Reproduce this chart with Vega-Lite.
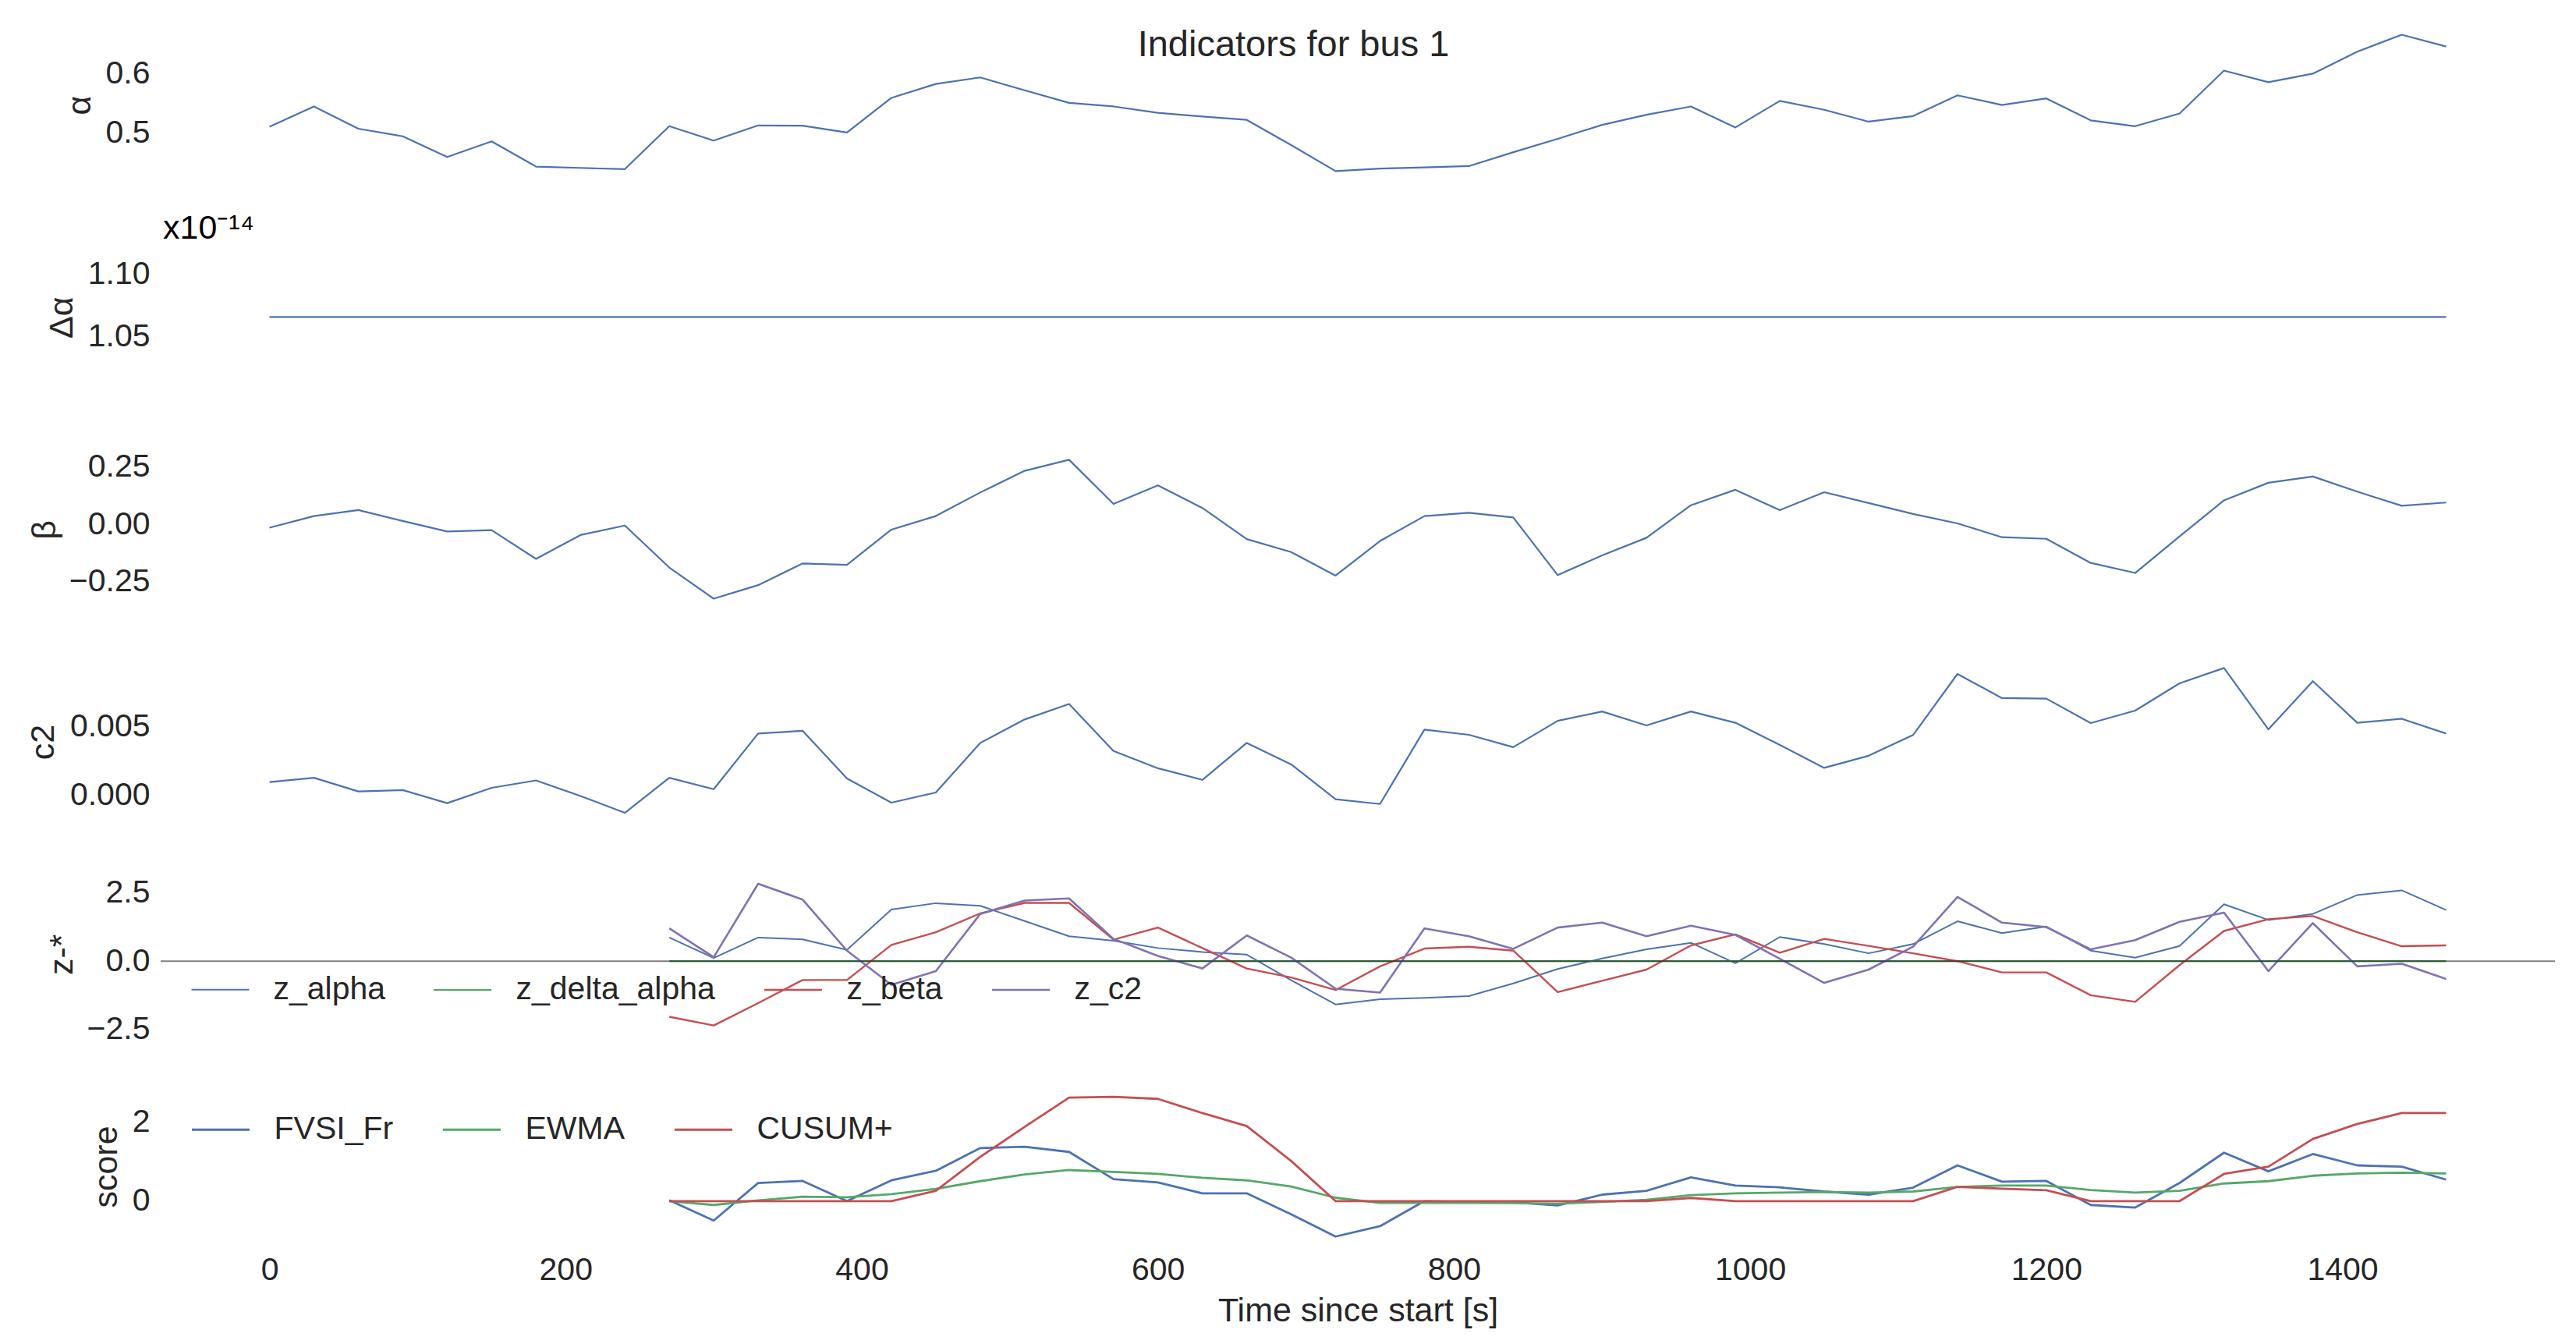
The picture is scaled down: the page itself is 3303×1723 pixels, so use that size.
{
  "$schema": "https://vega.github.io/schema/vega-lite/v6.json",
  "background": "white",
  "padding": {"left": 34, "top": 33.5, "right": 10, "bottom": 10},
  "bounds": "flush",
  "spacing": 74.2,
  "datasets": {
    "ind": [
      {"t": 0, "alpha": 0.5107, "dalpha": 1.0658e-14, "beta": -0.0153, "c2": 0.00095},
      {"t": 30, "alpha": 0.5449, "dalpha": 1.0658e-14, "beta": 0.0353, "c2": 0.00126},
      {"t": 60, "alpha": 0.5073, "dalpha": 1.0658e-14, "beta": 0.0612, "c2": 0.00027},
      {"t": 90, "alpha": 0.4944, "dalpha": 1.0658e-14, "beta": 0.0141, "c2": 0.00037},
      {"t": 120, "alpha": 0.4594, "dalpha": 1.0658e-14, "beta": -0.0318, "c2": -0.00058},
      {"t": 150, "alpha": 0.4859, "dalpha": 1.0658e-14, "beta": -0.0259, "c2": 0.00053},
      {"t": 180, "alpha": 0.4432, "dalpha": 1.0658e-14, "beta": -0.1506, "c2": 0.00107},
      {"t": 210, "alpha": 0.441, "dalpha": 1.0658e-14, "beta": -0.0471, "c2": -0.00006},
      {"t": 240, "alpha": 0.4389, "dalpha": 1.0658e-14, "beta": -0.0059, "c2": -0.00128},
      {"t": 270, "alpha": 0.5115, "dalpha": 1.0658e-14, "beta": -0.1882, "c2": 0.00126},
      {"t": 300, "alpha": 0.4872, "dalpha": 1.0658e-14, "beta": -0.3235, "c2": 0.00043},
      {"t": 330, "alpha": 0.5128, "dalpha": 1.0658e-14, "beta": -0.2647, "c2": 0.00447},
      {"t": 360, "alpha": 0.5124, "dalpha": 1.0658e-14, "beta": -0.1706, "c2": 0.00467},
      {"t": 390, "alpha": 0.5009, "dalpha": 1.0658e-14, "beta": -0.1765, "c2": 0.00121},
      {"t": 420, "alpha": 0.5594, "dalpha": 1.0658e-14, "beta": -0.0235, "c2": -0.00054},
      {"t": 450, "alpha": 0.5829, "dalpha": 1.0658e-14, "beta": 0.0353, "c2": 0.00019},
      {"t": 480, "alpha": 0.594, "dalpha": 1.0658e-14, "beta": 0.1376, "c2": 0.00379},
      {"t": 510, "alpha": 0.5722, "dalpha": 1.0658e-14, "beta": 0.2318, "c2": 0.00549},
      {"t": 540, "alpha": 0.5509, "dalpha": 1.0658e-14, "beta": 0.28, "c2": 0.00661},
      {"t": 570, "alpha": 0.5449, "dalpha": 1.0658e-14, "beta": 0.0882, "c2": 0.00321},
      {"t": 600, "alpha": 0.5342, "dalpha": 1.0658e-14, "beta": 0.1682, "c2": 0.00195},
      {"t": 630, "alpha": 0.5278, "dalpha": 1.0658e-14, "beta": 0.0706, "c2": 0.00111},
      {"t": 660, "alpha": 0.5222, "dalpha": 1.0658e-14, "beta": -0.0647, "c2": 0.00379},
      {"t": 690, "alpha": 0.4795, "dalpha": 1.0658e-14, "beta": -0.121, "c2": 0.00223},
      {"t": 720, "alpha": 0.4355, "dalpha": 1.0658e-14, "beta": -0.2235, "c2": -0.00029},
      {"t": 750, "alpha": 0.4397, "dalpha": 1.0658e-14, "beta": -0.0729, "c2": -0.00064},
      {"t": 780, "alpha": 0.4419, "dalpha": 1.0658e-14, "beta": 0.0353, "c2": 0.00475},
      {"t": 810, "alpha": 0.444, "dalpha": 1.0658e-14, "beta": 0.0494, "c2": 0.00438},
      {"t": 840, "alpha": 0.4675, "dalpha": 1.0658e-14, "beta": 0.0294, "c2": 0.00348},
      {"t": 870, "alpha": 0.4902, "dalpha": 1.0658e-14, "beta": -0.2212, "c2": 0.00539},
      {"t": 900, "alpha": 0.5137, "dalpha": 1.0658e-14, "beta": -0.1353, "c2": 0.00607},
      {"t": 930, "alpha": 0.5308, "dalpha": 1.0658e-14, "beta": -0.0588, "c2": 0.00506},
      {"t": 960, "alpha": 0.5449, "dalpha": 1.0658e-14, "beta": 0.0824, "c2": 0.00607},
      {"t": 990, "alpha": 0.5094, "dalpha": 1.0658e-14, "beta": 0.1494, "c2": 0.00525},
      {"t": 1020, "alpha": 0.5543, "dalpha": 1.0658e-14, "beta": 0.0612, "c2": 0.00364},
      {"t": 1050, "alpha": 0.5393, "dalpha": 1.0658e-14, "beta": 0.1388, "c2": 0.00198},
      {"t": 1080, "alpha": 0.5192, "dalpha": 1.0658e-14, "beta": 0.0918, "c2": 0.00286},
      {"t": 1110, "alpha": 0.5286, "dalpha": 1.0658e-14, "beta": 0.0447, "c2": 0.00436},
      {"t": 1140, "alpha": 0.5637, "dalpha": 1.0658e-14, "beta": 0.0035, "c2": 0.00879},
      {"t": 1170, "alpha": 0.5474, "dalpha": 1.0658e-14, "beta": -0.0565, "c2": 0.00704},
      {"t": 1200, "alpha": 0.5585, "dalpha": 1.0658e-14, "beta": -0.0635, "c2": 0.007},
      {"t": 1230, "alpha": 0.5214, "dalpha": 1.0658e-14, "beta": -0.1682, "c2": 0.00523},
      {"t": 1260, "alpha": 0.5115, "dalpha": 1.0658e-14, "beta": -0.2118, "c2": 0.00613},
      {"t": 1290, "alpha": 0.5329, "dalpha": 1.0658e-14, "beta": -0.0529, "c2": 0.00811},
      {"t": 1320, "alpha": 0.6056, "dalpha": 1.0658e-14, "beta": 0.1035, "c2": 0.00922},
      {"t": 1350, "alpha": 0.5859, "dalpha": 1.0658e-14, "beta": 0.18, "c2": 0.00477},
      {"t": 1380, "alpha": 0.6004, "dalpha": 1.0658e-14, "beta": 0.2071, "c2": 0.00827},
      {"t": 1410, "alpha": 0.6376, "dalpha": 1.0658e-14, "beta": 0.1412, "c2": 0.00525},
      {"t": 1440, "alpha": 0.6662, "dalpha": 1.0658e-14, "beta": 0.08, "c2": 0.00554},
      {"t": 1470, "alpha": 0.6462, "dalpha": 1.0658e-14, "beta": 0.0941, "c2": 0.00447}
    ],
    "z": [
      {"t": 270, "z_alpha": 0.865, "z_delta_alpha": 0, "z_beta": -2.038, "z_c2": 1.202},
      {"t": 300, "z_alpha": 0.115, "z_delta_alpha": 0, "z_beta": -2.356, "z_c2": 0.144},
      {"t": 330, "z_alpha": 0.865, "z_delta_alpha": 0, "z_beta": -1.538, "z_c2": 2.837},
      {"t": 360, "z_alpha": 0.798, "z_delta_alpha": 0, "z_beta": -0.692, "z_c2": 2.26},
      {"t": 390, "z_alpha": 0.413, "z_delta_alpha": 0, "z_beta": -0.692, "z_c2": 0.385},
      {"t": 420, "z_alpha": 1.894, "z_delta_alpha": 0, "z_beta": 0.596, "z_c2": -0.865},
      {"t": 450, "z_alpha": 2.125, "z_delta_alpha": 0, "z_beta": 1.058, "z_c2": -0.365},
      {"t": 480, "z_alpha": 2.029, "z_delta_alpha": 0, "z_beta": 1.75, "z_c2": 1.731},
      {"t": 510, "z_alpha": 1.471, "z_delta_alpha": 0, "z_beta": 2.135, "z_c2": 2.221},
      {"t": 540, "z_alpha": 0.913, "z_delta_alpha": 0, "z_beta": 2.135, "z_c2": 2.298},
      {"t": 570, "z_alpha": 0.75, "z_delta_alpha": 0, "z_beta": 0.788, "z_c2": 0.817},
      {"t": 600, "z_alpha": 0.481, "z_delta_alpha": 0, "z_beta": 1.231, "z_c2": 0.192},
      {"t": 630, "z_alpha": 0.337, "z_delta_alpha": 0, "z_beta": 0.481, "z_c2": -0.269},
      {"t": 660, "z_alpha": 0.24, "z_delta_alpha": 0, "z_beta": -0.269, "z_c2": 0.942},
      {"t": 690, "z_alpha": -0.7, "z_delta_alpha": 0, "z_beta": -0.6, "z_c2": 0.13},
      {"t": 720, "z_alpha": -1.587, "z_delta_alpha": 0, "z_beta": -1.058, "z_c2": -1.01},
      {"t": 750, "z_alpha": -1.394, "z_delta_alpha": 0, "z_beta": -0.192, "z_c2": -1.154},
      {"t": 780, "z_alpha": -1.346, "z_delta_alpha": 0, "z_beta": 0.462, "z_c2": 1.202},
      {"t": 810, "z_alpha": -1.279, "z_delta_alpha": 0, "z_beta": 0.529, "z_c2": 0.913},
      {"t": 840, "z_alpha": -0.817, "z_delta_alpha": 0, "z_beta": 0.385, "z_c2": 0.452},
      {"t": 870, "z_alpha": -0.288, "z_delta_alpha": 0, "z_beta": -1.135, "z_c2": 1.231},
      {"t": 900, "z_alpha": 0.096, "z_delta_alpha": 0, "z_beta": -0.721, "z_c2": 1.413},
      {"t": 930, "z_alpha": 0.433, "z_delta_alpha": 0, "z_beta": -0.308, "z_c2": 0.913},
      {"t": 960, "z_alpha": 0.673, "z_delta_alpha": 0, "z_beta": 0.577, "z_c2": 1.298},
      {"t": 990, "z_alpha": -0.077, "z_delta_alpha": 0, "z_beta": 0.981, "z_c2": 0.962},
      {"t": 1020, "z_alpha": 0.885, "z_delta_alpha": 0, "z_beta": 0.308, "z_c2": 0.087},
      {"t": 1050, "z_alpha": 0.625, "z_delta_alpha": 0, "z_beta": 0.817, "z_c2": -0.798},
      {"t": 1080, "z_alpha": 0.288, "z_delta_alpha": 0, "z_beta": 0.558, "z_c2": -0.308},
      {"t": 1110, "z_alpha": 0.625, "z_delta_alpha": 0, "z_beta": 0.288, "z_c2": 0.529},
      {"t": 1140, "z_alpha": 1.462, "z_delta_alpha": 0, "z_beta": 0.0, "z_c2": 2.356},
      {"t": 1170, "z_alpha": 1.029, "z_delta_alpha": 0, "z_beta": -0.413, "z_c2": 1.413},
      {"t": 1200, "z_alpha": 1.269, "z_delta_alpha": 0, "z_beta": -0.413, "z_c2": 1.25},
      {"t": 1230, "z_alpha": 0.385, "z_delta_alpha": 0, "z_beta": -1.25, "z_c2": 0.433},
      {"t": 1260, "z_alpha": 0.125, "z_delta_alpha": 0, "z_beta": -1.49, "z_c2": 0.769},
      {"t": 1290, "z_alpha": 0.558, "z_delta_alpha": 0, "z_beta": -0.144, "z_c2": 1.442},
      {"t": 1320, "z_alpha": 2.087, "z_delta_alpha": 0, "z_beta": 1.106, "z_c2": 1.779},
      {"t": 1350, "z_alpha": 1.51, "z_delta_alpha": 0, "z_beta": 1.538, "z_c2": -0.365},
      {"t": 1380, "z_alpha": 1.731, "z_delta_alpha": 0, "z_beta": 1.654, "z_c2": 1.394},
      {"t": 1410, "z_alpha": 2.423, "z_delta_alpha": 0, "z_beta": 1.058, "z_c2": -0.192},
      {"t": 1440, "z_alpha": 2.596, "z_delta_alpha": 0, "z_beta": 0.548, "z_c2": -0.096},
      {"t": 1470, "z_alpha": 1.875, "z_delta_alpha": 0, "z_beta": 0.577, "z_c2": -0.654}
    ],
    "score": [
      {"t": 270, "FVSI_Fr": 0.02, "EWMA": 0.0, "CUSUM+": 0},
      {"t": 300, "FVSI_Fr": -0.492, "EWMA": -0.098, "CUSUM+": 0},
      {"t": 330, "FVSI_Fr": 0.459, "EWMA": 0.02, "CUSUM+": 0},
      {"t": 360, "FVSI_Fr": 0.511, "EWMA": 0.111, "CUSUM+": 0},
      {"t": 390, "FVSI_Fr": 0.0, "EWMA": 0.098, "CUSUM+": 0},
      {"t": 420, "FVSI_Fr": 0.525, "EWMA": 0.177, "CUSUM+": 0},
      {"t": 450, "FVSI_Fr": 0.767, "EWMA": 0.308, "CUSUM+": 0.262},
      {"t": 480, "FVSI_Fr": 1.344, "EWMA": 0.505, "CUSUM+": 1.121},
      {"t": 510, "FVSI_Fr": 1.377, "EWMA": 0.675, "CUSUM+": 1.882},
      {"t": 540, "FVSI_Fr": 1.246, "EWMA": 0.787, "CUSUM+": 2.623},
      {"t": 570, "FVSI_Fr": 0.557, "EWMA": 0.741, "CUSUM+": 2.643},
      {"t": 600, "FVSI_Fr": 0.472, "EWMA": 0.689, "CUSUM+": 2.59},
      {"t": 630, "FVSI_Fr": 0.197, "EWMA": 0.59, "CUSUM+": 2.23},
      {"t": 660, "FVSI_Fr": 0.197, "EWMA": 0.525, "CUSUM+": 1.902},
      {"t": 690, "FVSI_Fr": -0.334, "EWMA": 0.37, "CUSUM+": 1.016},
      {"t": 720, "FVSI_Fr": -0.898, "EWMA": 0.085, "CUSUM+": 0},
      {"t": 750, "FVSI_Fr": -0.636, "EWMA": -0.046, "CUSUM+": 0},
      {"t": 780, "FVSI_Fr": 0.0, "EWMA": -0.046, "CUSUM+": 0},
      {"t": 810, "FVSI_Fr": -0.02, "EWMA": -0.046, "CUSUM+": 0},
      {"t": 840, "FVSI_Fr": -0.033, "EWMA": -0.052, "CUSUM+": 0},
      {"t": 870, "FVSI_Fr": -0.111, "EWMA": -0.066, "CUSUM+": 0},
      {"t": 900, "FVSI_Fr": 0.164, "EWMA": -0.02, "CUSUM+": 0},
      {"t": 930, "FVSI_Fr": 0.262, "EWMA": 0.033, "CUSUM+": 0},
      {"t": 960, "FVSI_Fr": 0.603, "EWMA": 0.151, "CUSUM+": 0.08},
      {"t": 990, "FVSI_Fr": 0.393, "EWMA": 0.197, "CUSUM+": 0},
      {"t": 1020, "FVSI_Fr": 0.348, "EWMA": 0.216, "CUSUM+": 0},
      {"t": 1050, "FVSI_Fr": 0.243, "EWMA": 0.23, "CUSUM+": 0},
      {"t": 1080, "FVSI_Fr": 0.164, "EWMA": 0.216, "CUSUM+": 0},
      {"t": 1110, "FVSI_Fr": 0.341, "EWMA": 0.243, "CUSUM+": 0},
      {"t": 1140, "FVSI_Fr": 0.905, "EWMA": 0.361, "CUSUM+": 0.361},
      {"t": 1170, "FVSI_Fr": 0.492, "EWMA": 0.393, "CUSUM+": 0.315},
      {"t": 1200, "FVSI_Fr": 0.511, "EWMA": 0.393, "CUSUM+": 0.275},
      {"t": 1230, "FVSI_Fr": -0.098, "EWMA": 0.282, "CUSUM+": 0},
      {"t": 1260, "FVSI_Fr": -0.164, "EWMA": 0.216, "CUSUM+": 0},
      {"t": 1290, "FVSI_Fr": 0.459, "EWMA": 0.262, "CUSUM+": 0},
      {"t": 1320, "FVSI_Fr": 1.226, "EWMA": 0.446, "CUSUM+": 0.689},
      {"t": 1350, "FVSI_Fr": 0.754, "EWMA": 0.505, "CUSUM+": 0.872},
      {"t": 1380, "FVSI_Fr": 1.193, "EWMA": 0.643, "CUSUM+": 1.574},
      {"t": 1410, "FVSI_Fr": 0.905, "EWMA": 0.702, "CUSUM+": 1.954},
      {"t": 1440, "FVSI_Fr": 0.872, "EWMA": 0.721, "CUSUM+": 2.23},
      {"t": 1470, "FVSI_Fr": 0.544, "EWMA": 0.702, "CUSUM+": 2.23}
    ]
  },
  "resolve": {
    "scale": {"color": "independent", "strokeWidth": "independent"},
    "legend": {"color": "independent"}
  },
  "vconcat": [
    {
      "width": 3070,
      "height": 198,
      "data": {"name": "ind"},
      "title": {"text": "Indicators for bus 1", "anchor": "middle", "frame": "group", "orient": "top", "offset": -83.6, "baseline": "alphabetic", "dx": -82.5, "fontSize": 47, "font": "Liberation Sans", "fontWeight": "normal", "color": "#262626"},
      "mark": {"type": "line", "color": "#4C72B0", "strokeWidth": 2.2, "strokeJoin": "round"},
      "encoding": {
        "x": {"field": "t", "type": "quantitative", "scale": {"domain": [-73.5, 1543.5], "nice": false, "zero": false}, "axis": null},
        "y": {"field": "alpha", "type": "quantitative", "scale": {"domain": [0.4169, 0.6781], "nice": false, "zero": false},
              "axis": {"values": [0.5, 0.6], "format": ".1f", "title": "α", "titleX": -103.5, "titleY": 99, "titleBaseline": "middle", "titleAlign": "center", "titleAngle": -90}}
      }
    },
    {
      "width": 3070,
      "height": 198,
      "data": {"name": "ind"},
      "title": {"text": "x10⁻¹⁴", "anchor": "start", "frame": "group", "orient": "top", "offset": -41.5, "baseline": "alphabetic", "dx": 3, "fontSize": 43, "font": "Liberation Sans", "fontWeight": "normal", "color": "#000000"},
      "mark": {"type": "line", "color": "#4C72B0", "strokeWidth": 2.2, "strokeJoin": "round"},
      "encoding": {
        "x": {"field": "t", "type": "quantitative", "scale": {"domain": [-73.5, 1543.5], "nice": false, "zero": false}, "axis": null},
        "y": {"field": "dalpha", "type": "quantitative", "scale": {"domain": [1.00375e-14, 1.1275e-14], "nice": false, "zero": false},
              "axis": {"values": [1.05e-14, 1.1e-14], "labelExpr": "format(datum.value * 1e14, '.2f')", "title": "Δα", "titleX": -126.5, "titleY": 99, "titleBaseline": "middle", "titleAlign": "center", "titleAngle": -90}}
      }
    },
    {
      "width": 3070,
      "height": 198,
      "data": {"name": "ind"},
      "mark": {"type": "line", "color": "#4C72B0", "strokeWidth": 2.2, "strokeJoin": "round"},
      "encoding": {
        "x": {"field": "t", "type": "quantitative", "scale": {"domain": [-73.5, 1543.5], "nice": false, "zero": false}, "axis": null},
        "y": {"field": "beta", "type": "quantitative", "scale": {"domain": [-0.3587, 0.312], "nice": false, "zero": false},
              "axis": {"values": [-0.25, 0, 0.25], "format": ".2f", "title": "β", "titleX": -148.5, "titleY": 99, "titleBaseline": "middle", "titleAlign": "center", "titleAngle": -90}}
      }
    },
    {
      "width": 3070,
      "height": 198,
      "data": {"name": "ind"},
      "mark": {"type": "line", "color": "#4C72B0", "strokeWidth": 2.2, "strokeJoin": "round"},
      "encoding": {
        "x": {"field": "t", "type": "quantitative", "scale": {"domain": [-73.5, 1543.5], "nice": false, "zero": false}, "axis": null},
        "y": {"field": "c2", "type": "quantitative", "scale": {"domain": [-0.001736, 0.009463], "nice": false, "zero": false},
              "axis": {"values": [0, 0.005], "format": ".3f", "title": "c2", "titleX": -150.5, "titleY": 99, "titleBaseline": "middle", "titleAlign": "center", "titleAngle": -90}}
      }
    },
    {
      "width": 3070,
      "height": 198,
      "encoding": {
        "y": {"field": "zval", "type": "quantitative", "scale": {"domain": [-2.576, 3.085], "nice": false, "zero": false},
              "axis": {"values": [-2.5, 0, 2.5], "format": ".1f", "title": "z-*", "titleX": -126.5, "titleY": 99, "titleBaseline": "middle", "titleAlign": "center", "titleAngle": -90}}
      },
      "layer": [
        {
          "data": {"name": "z"},
          "transform": [{"fold": ["z_alpha", "z_delta_alpha", "z_beta", "z_c2"], "as": ["zseries", "zval"]}],
          "mark": {"type": "line", "strokeJoin": "round"},
          "encoding": {
            "x": {"field": "t", "type": "quantitative", "scale": {"domain": [-73.5, 1543.5], "nice": false, "zero": false}, "axis": null},
            "color": {"field": "zseries", "type": "nominal",
                      "scale": {"domain": ["z_alpha", "z_delta_alpha", "z_beta", "z_c2"], "range": ["#4C72B0", "#55A868", "#C44E52", "#8172B2"]},
                      "legend": {"orient": "none", "legendX": 38.5, "legendY": 106, "direction": "horizontal", "title": null, "symbolType": "stroke", "symbolSize": 5476, "symbolStrokeWidth": 2.2, "labelFontSize": 41, "labelFont": "Liberation Sans", "labelColor": "#262626", "labelOffset": 30, "columnPadding": 57, "padding": 0, "labelLimit": 1000}},
            "strokeWidth": {"field": "zseries", "type": "ordinal", "scale": {"domain": ["z_alpha", "z_delta_alpha", "z_beta", "z_c2"], "range": [2.0, 2.6, 2.2, 1.6]}, "legend": null}
          }
        },
        {
          "data": {"values": [{"zval": 0}]},
          "mark": {"type": "rule", "color": "#000000", "opacity": 0.5, "strokeWidth": 2}
        }
      ]
    },
    {
      "width": 3070,
      "height": 198,
      "data": {"name": "score"},
      "transform": [{"fold": ["FVSI_Fr", "EWMA", "CUSUM+"], "as": ["sseries", "sval"]}],
      "mark": {"type": "line", "strokeJoin": "round"},
      "encoding": {
        "x": {"field": "t", "type": "quantitative", "scale": {"domain": [-73.5, 1543.5], "nice": false, "zero": false},
              "axis": {"values": [0, 200, 400, 600, 800, 1000, 1200, 1400], "format": "d", "title": "Time since start [s]", "labelPadding": 14, "titlePadding": 11}},
        "y": {"field": "sval", "type": "quantitative", "scale": {"domain": [-1.081, 2.832], "nice": false, "zero": false},
              "axis": {"values": [0, 2], "format": "d", "title": "score", "titleX": -70, "titleY": 99, "titleBaseline": "middle", "titleAlign": "center", "titleAngle": -90}},
        "color": {"field": "sseries", "type": "nominal",
                  "scale": {"domain": ["FVSI_Fr", "EWMA", "CUSUM+"], "range": ["#4C72B0", "#55A868", "#C44E52"]},
                  "legend": {"orient": "none", "legendX": 38.5, "legendY": 13, "direction": "horizontal", "title": null, "symbolType": "stroke", "symbolSize": 5476, "symbolStrokeWidth": 2.6, "labelFontSize": 41, "labelFont": "Liberation Sans", "labelColor": "#262626", "labelOffset": 30, "columnPadding": 57, "padding": 0, "labelLimit": 1000}},
        "strokeWidth": {"field": "sseries", "type": "ordinal", "scale": {"domain": ["FVSI_Fr", "EWMA", "CUSUM+"], "range": [2.8, 2.8, 1.8]}, "legend": null}
      }
    }
  ],
  "config": {
    "font": "Liberation Sans",
    "view": {"stroke": "transparent"},
    "axis": {"domain": false, "ticks": false, "tickSize": 0, "grid": false, "labelFont": "Liberation Sans", "labelFontSize": 41, "labelColor": "#262626", "labelPadding": 14, "titleFont": "Liberation Sans", "titleFontSize": 43, "titleFontWeight": "normal", "titleColor": "#262626"},
    "legend": {"labelFont": "Liberation Sans"}
  }
}
